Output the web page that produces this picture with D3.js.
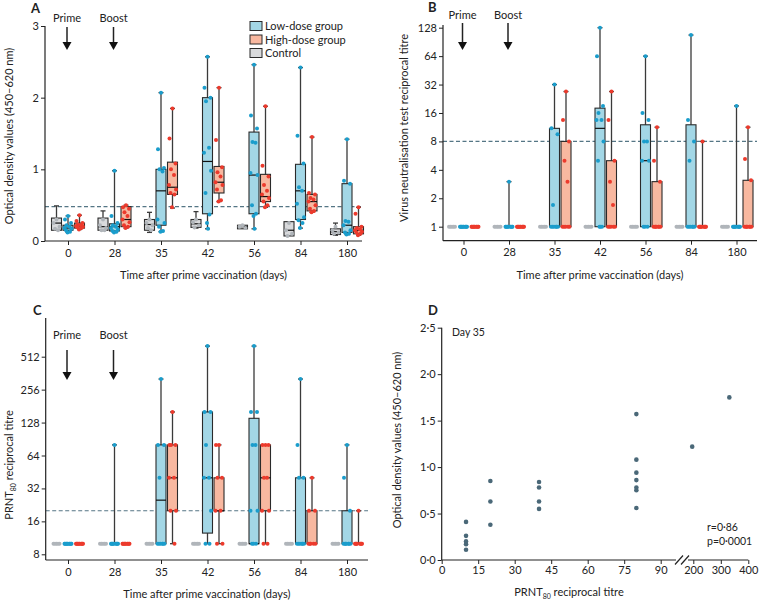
<!DOCTYPE html>
<html><head><meta charset="utf-8">
<script src="https://cdn.jsdelivr.net/npm/d3@7"></script>
<style>
body{margin:0;background:#fff}
svg{display:block}
text{font-family:Lato,"Open Sans",sans-serif;fill:#222}
</style></head><body>
<svg id="c" width="759" height="602"></svg>
<script>
// ---------- DATA ----------
const days = ["0","28","35","42","56","84","180"];
const legendLabels = ["Low-dose group","High-dose group","Control"];

// Panel A: optical density, box stats [min, q1, median, q3, max]
const odControlBox = [[0.15,0.15,0.25,0.32,0.49],[0.15,0.15,0.2,0.32,0.42],[0.12,0.15,0.23,0.3,0.4],[0.18,0.19,0.24,0.3,0.41],[0.17,0.17,0.2,0.22,0.22],[0.07,0.07,0.15,0.27,0.27],[0.08,0.09,0.13,0.17,0.25]];
const odControlPts = [[0.3,0.25,0.2,0.17,0.15],[0.3,0.22,0.18,0.15,0.15],[0.3,0.25,0.22,0.18,0.15],[0.3,0.26,0.22,0.19],[0.22,0.2,0.18],[0.25,0.15,0.1,0.07],[0.2,0.15,0.12,0.1]];
const odLowBox = [[0.12,0.15,0.18,0.22,0.35],[0.12,0.14,0.2,0.24,0.98],[0.13,0.22,0.7,1.0,2.07],[0.17,0.38,1.11,2.0,2.57],[0.17,0.38,0.92,1.52,2.46],[0.18,0.3,0.7,1.07,2.42],[0.09,0.12,0.22,0.8,1.42]];
const odLowPts = [
 [0.35,0.3,0.25,0.22,0.2,0.18,0.17,0.15,0.13,0.12],
 [0.98,0.35,0.25,0.22,0.2,0.18,0.16,0.14,0.13,0.12],
 [2.07,1.28,1.02,1.0,0.97,0.3,0.25,0.2,0.14,0.13],
 [2.57,2.14,2.0,1.95,1.3,1.23,0.98,0.67,0.37,0.25,0.17],
 [2.46,1.75,1.57,1.38,1.37,0.95,0.92,0.5,0.38,0.35,0.17],
 [2.42,1.47,1.08,0.75,0.7,0.52,0.33,0.29,0.25,0.18],
 [1.42,0.84,0.8,0.28,0.27,0.22,0.15,0.12,0.1,0.09]];
const odHighBox = [[0.16,0.18,0.21,0.25,0.36],[0.18,0.2,0.3,0.48,0.5],[0.46,0.65,0.75,1.1,1.85],[0.55,0.67,0.82,1.04,2.14],[0.47,0.55,0.62,0.93,1.88],[0.4,0.42,0.55,0.65,1.45],[0.08,0.1,0.15,0.2,0.47]];
const odHighPts = [
 [0.36,0.28,0.25,0.23,0.22,0.21,0.2,0.19,0.18,0.16],
 [0.5,0.47,0.45,0.4,0.35,0.3,0.26,0.22,0.2,0.18],
 [1.85,1.43,1.08,1.0,0.92,0.78,0.72,0.67,0.65,0.47],
 [2.14,1.41,1.03,0.96,0.9,0.82,0.78,0.72,0.57,0.55],
 [1.88,1.05,0.9,0.78,0.7,0.65,0.6,0.55,0.5,0.47],
 [1.45,0.67,0.65,0.6,0.58,0.55,0.5,0.45,0.42,0.4],
 [0.47,0.38,0.2,0.18,0.16,0.15,0.13,0.12,0.1,0.08]];
const odCutoff = 0.48;

// Panel B: virus neutralisation titres
const vnTicks = [1,2,4,8,16,32,64,128];
const vnControlPts = [[1,1,1,1,1],[1,1,1,1,1],[1,1,1,1,1],[1,1,1,1,1],[1,1,1,1,1],[1,1,1,1,1],[1,1,1,1,1]];
const vnLowBox = [[1,1,1,1,1],[1,1,1,1,3],[1,1,1,11,32],[1,1,11,18,128],[1,1,5,12,64],[1,1,1,12,107],[1,1,1,1,19]];
const vnLowPts = [
 [1,1,1,1,1,1,1,1,1,1],
 [3,1,1,1,1,1,1,1,1,1],
 [32,11,9.5,1.7,1,1,1,1,1,1],
 [128,64,19,16,13.5,13.5,8,5,1,1,1],
 [64,16,13.5,8,8,5,5,1,1,1],
 [107,13.5,8,5,1,1,1,1,1,1],
 [19,1,1,1,1,1,1,1,1,1]];
const vnHighBox = [[1,1,1,1,1],[1,1,1,1,1],[1,1,1,8,27],[1,1,1,5,27],[1,1,1,3,11.3],[1,1,1,1,8],[1,1,1,3.1,11.3]];
const vnHighPts = [
 [1,1,1,1,1,1,1,1,1,1],
 [1,1,1,1,1,1,1,1,1,1],
 [27,13.5,8,5,3,1,1,1,1,1],
 [27,13.5,5,3,1.7,1,1,1,1,1],
 [11.3,5,3,1,1,1,1,1,1,1],
 [8,1,1,1,1,1,1,1,1,1],
 [11.3,5.2,3.1,1,1,1,1,1,1,1]];
const vnCutoff = 8;

// Panel C: PRNT80 titres
const prntTicks = [8,16,32,64,128,256,512];
const prntControlPts = [[10,10,10,10,10],[10,10,10,10,10],[10,10,10,10,10],[10,10,10,10,10],[10,10,10,10,10],[10,10,10,10,10],[10,10,10,10,10]];
const prntLowBox = [[10,10,10,10,10],[10,10,10,10,80],[10,10,25,80,320],[10,12.5,40,160,640],[10,10,10,140,640],[10,10,10,40,320],[10,10,10,20,80]];
const prntLowPts = [
 [10,10,10,10,10,10,10,10,10,10],
 [80,10,10,10,10,10,10,10,10,10],
 [320,80,80,40,10,10,10,10,10,10],
 [640,160,160,80,40,40,20,10,10],
 [640,160,160,80,80,20,20,10,10,10],
 [320,80,40,40,10,10,10,10,10,10],
 [80,40,20,10,10,10,10,10,10,10]];
const prntHighBox = [[10,10,10,10,10],[10,10,10,10,10],[10,20,40,80,160],[10,20,20,40,80],[10,20,40,80,80],[10,10,10,20,40],[10,10,10,10,20]];
const prntHighPts = [
 [10,10,10,10,10,10,10,10,10,10],
 [10,10,10,10,10,10,10,10,10,10],
 [160,80,80,80,40,40,20,20,10],
 [80,80,40,40,20,20,10,10],
 [80,80,80,40,40,20,20,10,10],
 [40,20,20,10,10,10,10,10],
 [20,10,10,10,10,10,10,10,10]];
const prntCutoff = 20;

// Panel D: day 35 correlation
const dPrnt = [10,10,10,10,10,20,20,20,40,40,40,40,80,80,80,80,80,80,80,196,331];
const dOD   = [0.41,0.26,0.20,0.17,0.11,0.85,0.63,0.38,0.84,0.78,0.63,0.55,1.57,1.08,0.94,0.86,0.78,0.75,0.56,1.22,1.75];
const dXTicksLow = [0,15,30,45,60,75,90];
const dXTicksHigh = [200,300,400];
const dYTicks = [0,0.5,1,1.5,2,2.5];

// ---------- STYLE ----------
const C = {
  lowFill:"#a3d7e6", lowDot:"#1a9dcc",
  highFill:"#f8b8a0", highDot:"#ec3a2c",
  ctlFill:"#d9dadc", ctlDot:"#b0b5ba",
  stroke:"#2a2a2a", whisk:"#3a3a3a", cut:"#557685", dDot:"#4a6878"
};
const jit = [0,-3,3,-1.5,1.5,-3.5,3.5,-2,2,-0.5,0.5,-2.5];
const FS = 11;

const svg = d3.select("#c");

function styleAxis(g){
  g.select(".domain").remove();
  g.selectAll("line").attr("stroke","#222");
  g.selectAll("text").attr("font-size",FS).attr("fill","#222")
   .attr("font-family","Lato, 'Open Sans', sans-serif");
}

function drawBox(g, cx, y, box, fill, w){
  const [mn,q1,md,q3,mx] = box;
  const bw = w/2;
  g.append("line").attr("x1",cx).attr("x2",cx).attr("y1",y(mn)).attr("y2",y(mx))
    .attr("stroke",C.whisk).attr("stroke-width",1.3);
  if (mx>q3) g.append("line").attr("x1",cx-2.5).attr("x2",cx+2.5).attr("y1",y(mx)).attr("y2",y(mx))
    .attr("stroke",C.whisk).attr("stroke-width",1.3);
  if (mn<q1) g.append("line").attr("x1",cx-2.5).attr("x2",cx+2.5).attr("y1",y(mn)).attr("y2",y(mn))
    .attr("stroke",C.whisk).attr("stroke-width",1.3);
  if (q3>q1) {
    g.append("rect").attr("x",cx-bw).attr("width",w).attr("y",y(q3)).attr("height",y(q1)-y(q3))
      .attr("fill",fill).attr("stroke",C.stroke).attr("stroke-width",1.1);
    g.append("line").attr("x1",cx-bw).attr("x2",cx+bw).attr("y1",y(md)).attr("y2",y(md))
      .attr("stroke","#111").attr("stroke-width",1.2);
  }
}
function drawDots(g, cx, y, pts, color, r){
  pts.forEach((v,i)=>{
    g.append("circle").attr("cx",cx+jit[i%jit.length]).attr("cy",y(v)).attr("r",r).attr("fill",color);
  });
}

function boxPanel(o){
  const g = svg.append("g");
  const x = d3.scalePoint().domain(days).range(o.xr);
  // cutoff dashed line
  g.append("line").attr("x1",o.ax).attr("x2",o.xEnd).attr("y1",o.y(o.cut)).attr("y2",o.y(o.cut))
    .attr("stroke",C.cut).attr("stroke-width",1.2).attr("stroke-dasharray","4,2.5");
  const off = 11.5, bw = 10;
  days.forEach((d,i)=>{
    const cx = x(d);
    if (o.ctlBox) drawBox(g, cx-off, o.y, o.ctlBox[i], C.ctlFill, bw);
    drawDots(g, cx-off, o.y, o.ctlPts[i], C.ctlDot, o.r);
    drawBox(g, cx, o.y, o.lowBox[i], C.lowFill, bw);
    drawDots(g, cx, o.y, o.lowPts[i], C.lowDot, o.r);
    drawBox(g, cx+off, o.y, o.highBox[i], C.highFill, bw);
    drawDots(g, cx+off, o.y, o.highPts[i], C.highDot, o.r);
  });
  // axes
  g.append("line").attr("x1",o.ax).attr("x2",o.ax).attr("y1",o.yTop).attr("y2",o.xAxisY).attr("stroke","#222").attr("stroke-width",1.2);
  g.append("line").attr("x1",o.ax).attr("x2",o.xEnd).attr("y1",o.xAxisY).attr("y2",o.xAxisY).attr("stroke","#222").attr("stroke-width",1.2);
  g.append("g").attr("transform",`translate(${o.ax},0)`)
    .call(d3.axisLeft(o.y).tickValues(o.yTicks).tickFormat(o.fmt).tickSize(4).tickPadding(2)).call(styleAxis);
  g.append("g").attr("transform",`translate(0,${o.xAxisY})`)
    .call(d3.axisBottom(x).tickSize(4).tickPadding(4)).call(styleAxis);
  // titles
  g.append("text").attr("x",(o.ax+o.xEnd)/2).attr("y",o.xTitleY).attr("text-anchor","middle").attr("font-size",FS)
    .text("Time after prime vaccination (days)");
  const yt = g.append("text").attr("transform",`translate(${o.yTitleX},${o.yTitleY}) rotate(-90)`)
    .attr("text-anchor","middle").attr("font-size",FS);
  o.yTitle(yt);
  g.append("text").attr("x",o.letter[0]).attr("y",o.letter[1]).attr("font-size",13).attr("font-weight","bold").text(o.letterText);
  // Prime/Boost arrows
  [["Prime",days[0]],["Boost",days[1]]].forEach(([lab,d])=>{
    const ax = x(d)-1;
    g.append("text").attr("x",ax).attr("y",o.arrow[0]).attr("text-anchor","middle").attr("font-size",FS).text(lab);
    g.append("line").attr("x1",ax).attr("x2",ax).attr("y1",o.arrow[1]).attr("y2",o.arrow[2]-6)
      .attr("stroke","#222").attr("stroke-width",1.5);
    g.append("path").attr("d",`M${ax-4.5},${o.arrow[2]-8}L${ax+4.5},${o.arrow[2]-8}L${ax},${o.arrow[2]}Z`).attr("fill","#111");
  });
  return g;
}

// Panel A
const yA = d3.scaleLinear().domain([0,3]).range([241,26]);
const gA = boxPanel({
  y:yA, xr:[68,347], ax:45, xEnd:362, yTop:26, xAxisY:241, cut:odCutoff,
  ctlBox:odControlBox, ctlPts:odControlPts, lowBox:odLowBox, lowPts:odLowPts, highBox:odHighBox, highPts:odHighPts,
  r:2, yTicks:[0,1,2,3], fmt:d3.format("d"), xTitleY:279, yTitleX:13, yTitleY:136,
  yTitle:t=>t.text("Optical density values (450–620 nm)"),
  letter:[31,13], letterText:"A", arrow:[22,27,50]
});
// legend
[[C.lowFill,legendLabels[0]],[C.highFill,legendLabels[1]],[C.ctlFill,legendLabels[2]]].forEach(([f,l],i)=>{
  const yy = 26 + i*13.5;
  gA.append("rect").attr("x",250).attr("y",yy-4.5).attr("width",12).attr("height",9).attr("fill",f).attr("stroke",C.stroke).attr("stroke-width",1);
  gA.append("text").attr("x",265).attr("y",yy+4).attr("font-size",FS).text(l);
});

// Panel B
const yB = d3.scaleLog().base(2).domain([1,128]).range([226.7,27.7]);
boxPanel({
  y:yB, xr:[463.5,736.5], ax:443, xEnd:757, yTop:25, xAxisY:240.7, cut:vnCutoff,
  ctlBox:null, ctlPts:vnControlPts, lowBox:vnLowBox, lowPts:vnLowPts, highBox:vnHighBox, highPts:vnHighPts,
  r:2, yTicks:vnTicks, fmt:d3.format("d"), xTitleY:279, yTitleX:408, yTitleY:128,
  yTitle:t=>t.text("Virus neutralisation test reciprocal titre"),
  letter:[428,12], letterText:"B", arrow:[19,23,50]
});

// Panel C
const yCs = d3.scaleLog().base(2).domain([8,512]).range([554.3,356.7]);
boxPanel({
  y:yCs, xr:[68,347], ax:45.7, xEnd:368, yTop:318, xAxisY:560, cut:prntCutoff,
  ctlBox:null, ctlPts:prntControlPts, lowBox:prntLowBox, lowPts:prntLowPts, highBox:prntHighBox, highPts:prntHighPts,
  r:2, yTicks:prntTicks, fmt:d3.format("d"), xTitleY:598, yTitleX:13, yTitleY:465,
  yTitle:t=>{t.append("tspan").text("PRNT");t.append("tspan").attr("font-size",7).attr("dy",3).text("80");t.append("tspan").attr("dy",-3).text(" reciprocal titre");},
  letter:[33,315], letterText:"C", arrow:[339,350,380]
});

// Panel D
(function(){
  const g = svg.append("g");
  const x1 = d3.scaleLinear().domain([0,90]).range([441.7,660.7]);
  const x2 = d3.scaleLinear().domain([200,400]).range([693.3,748.3]);
  const xv = v => v<=100 ? x1(v) : x2(v);
  const y = d3.scaleLinear().domain([0,2.5]).range([560,327.7]);
  const y0 = 560;
  g.append("line").attr("x1",441.7).attr("x2",441.7).attr("y1",y(2.5)).attr("y2",y0).attr("stroke","#222").attr("stroke-width",1.2);
  g.append("line").attr("x1",441.7).attr("x2",676).attr("y1",y0).attr("y2",y0).attr("stroke","#222").attr("stroke-width",1.2);
  g.append("line").attr("x1",688).attr("x2",748.3).attr("y1",y0).attr("y2",y0).attr("stroke","#222").attr("stroke-width",1.2);
  g.append("line").attr("x1",675).attr("y1",564.5).attr("x2",683).attr("y2",555.5).attr("stroke","#222").attr("stroke-width",1.2);
  g.append("line").attr("x1",681).attr("y1",564.5).attr("x2",689).attr("y2",555.5).attr("stroke","#222").attr("stroke-width",1.2);
  const dotFmt = d => d3.format(".1f")(d).replace(".","·");
  g.append("g").attr("transform",`translate(441.7,0)`)
    .call(d3.axisLeft(y).tickValues(dYTicks).tickFormat(dotFmt).tickSize(4).tickPadding(2)).call(styleAxis);
  g.append("g").attr("transform",`translate(0,${y0})`)
    .call(d3.axisBottom(x1).tickValues(dXTicksLow).tickFormat(d3.format("d")).tickSize(4).tickPadding(2)).call(styleAxis);
  g.append("g").attr("transform",`translate(0,${y0})`)
    .call(d3.axisBottom(x2).tickValues(dXTicksHigh).tickFormat(d3.format("d")).tickSize(4).tickPadding(2)).call(styleAxis);
  dPrnt.forEach((p,i)=>{
    g.append("circle").attr("cx",xv(p)).attr("cy",y(dOD[i])).attr("r",2.3).attr("fill",C.dDot);
  });
  g.append("text").attr("x",452).attr("y",336).attr("font-size",FS-0.5).text("Day 35");
  g.append("text").attr("x",707).attr("y",531).attr("font-size",FS-0.5).text("r=0·86");
  g.append("text").attr("x",707).attr("y",545).attr("font-size",FS-0.5).text("p=0·0001");
  g.append("text").attr("x",428).attr("y",315).attr("font-size",13).attr("font-weight","bold").text("D");
  const xt = g.append("text").attr("x",569).attr("y",596).attr("text-anchor","middle").attr("font-size",FS);
  xt.append("tspan").text("PRNT");xt.append("tspan").attr("font-size",7).attr("dy",3).text("80");xt.append("tspan").attr("dy",-3).text(" reciprocal titre");
  g.append("text").attr("transform","translate(401,440) rotate(-90)").attr("text-anchor","middle").attr("font-size",FS)
    .text("Optical density values (450–620 nm)");
})();
</script>
</body></html>
